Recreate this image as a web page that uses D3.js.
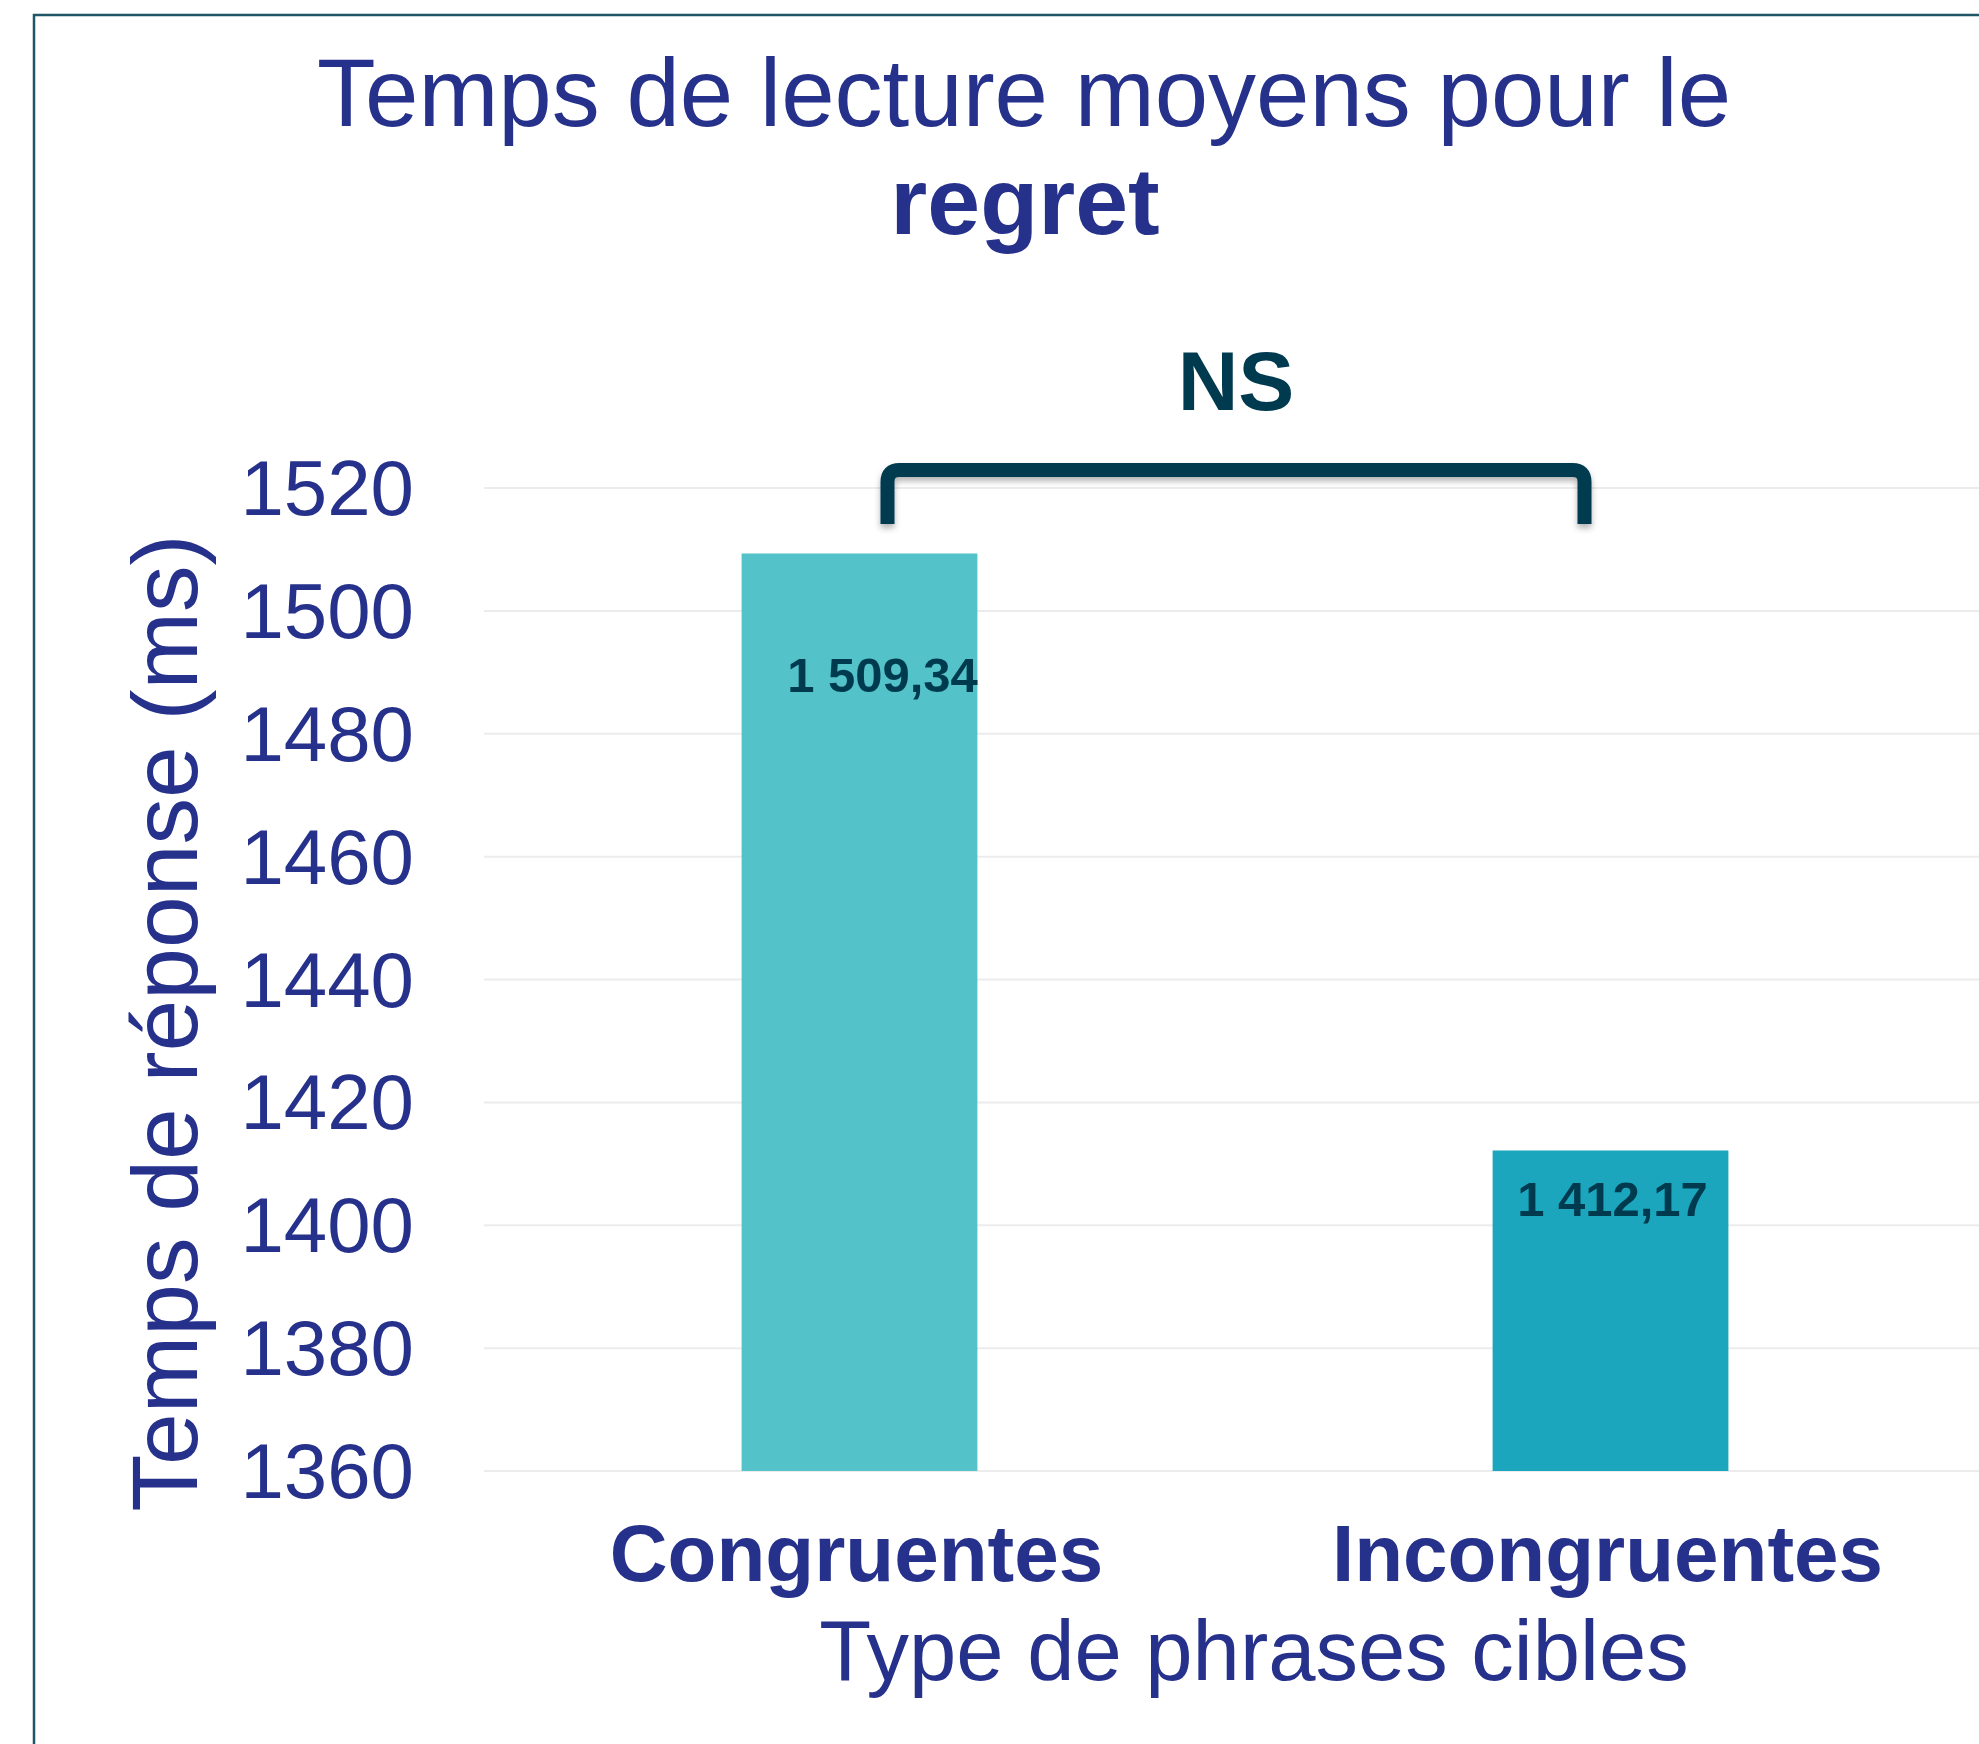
<!DOCTYPE html>
<html lang="fr">
<head>
<meta charset="UTF-8">
<title>Temps de lecture moyens pour le regret</title>
<script src="https://d3js.org/d3.v7.min.js"></script>
<style>
  body { margin: 0; background: #fff; }
  text { font-family: "Liberation Sans", Arial, sans-serif; }
</style>
</head>
<body>
<script>
// data
var categories = ["Congruentes", "Incongruentes"];
var values = [1509.34, 1412.17];
var valueLabels = ["1 509,34", "1 412,17"];
var yTicks = [1360, 1380, 1400, 1420, 1440, 1460, 1480, 1500, 1520];
var barColors = ["#53C3C9", "#1BA6BD"];

var w = 1979, h = 1744;
var navy = "#26318C";
var dark = "#003A4F";

var svg = d3.select("body").append("svg")
    .attr("width", w)
    .attr("height", h);

// frame
svg.append("path")
    .attr("d", "M34," + h + " V15 H" + w)
    .attr("fill", "none")
    .attr("stroke", "#1F5566")
    .attr("stroke-width", 2.5);

var x = d3.scaleBand()
    .domain(categories)
    .range([484, 1986])
    .paddingInner(0.686)
    .paddingOuter(0.343);

var y = d3.scaleLinear()
    .domain([1360, 1520])
    .range([1471, 488]);

// gridlines
svg.append("g").selectAll("line")
    .data(yTicks)
    .enter()
    .append("line")
    .attr("x1", 484)
    .attr("x2", w)
    .attr("y1", function(d){ return y(d); })
    .attr("y2", function(d){ return y(d); })
    .attr("stroke", "#ECECEC")
    .attr("stroke-width", 2);

// y tick labels
svg.append("g").selectAll("text")
    .data(yTicks)
    .enter()
    .append("text")
    .attr("x", 414)
    .attr("y", function(d){ return y(d) + 27; })
    .attr("text-anchor", "end")
    .attr("font-size", 78)
    .attr("fill", navy)
    .text(function(d){ return d; });

// bars
svg.append("g").selectAll("rect")
    .data(values)
    .enter()
    .append("rect")
    .attr("x", function(d, i){ return x(categories[i]); })
    .attr("y", function(d){ return y(d); })
    .attr("width", x.bandwidth())
    .attr("height", function(d){ return y(1360) - y(d); })
    .attr("fill", function(d, i){ return barColors[i]; });

// value labels (placed by hand in the original)
var labelDx = [23, 2];
var labelDy = [139, 66];
svg.append("g").selectAll("text")
    .data(values)
    .enter()
    .append("text")
    .attr("x", function(d, i){ return x(categories[i]) + x.bandwidth() / 2 + labelDx[i]; })
    .attr("y", function(d, i){ return y(d) + labelDy[i]; })
    .attr("text-anchor", "middle")
    .attr("font-size", 49)
    .attr("font-weight", "bold")
    .attr("fill", dark)
    .text(function(d, i){ return valueLabels[i]; });

// category labels
svg.append("g").selectAll("text")
    .data(categories)
    .enter()
    .append("text")
    .attr("x", function(d){ return x(d) + x.bandwidth() / 2 - 3; })
    .attr("y", 1581)
    .attr("text-anchor", "middle")
    .attr("font-size", 80)
    .attr("font-weight", "bold")
    .attr("fill", navy)
    .text(function(d){ return d; });

// axis titles
svg.append("text")
    .attr("x", 1254)
    .attr("y", 1680)
    .attr("text-anchor", "middle")
    .attr("font-size", 85)
    .attr("fill", navy)
    .text("Type de phrases cibles");

svg.append("text")
    .attr("transform", "translate(197,1023) rotate(-90)")
    .attr("text-anchor", "middle")
    .attr("font-size", 93)
    .attr("fill", navy)
    .text("Temps de réponse (ms)");

// title
svg.append("text")
    .attr("x", 1024)
    .attr("y", 126)
    .attr("text-anchor", "middle")
    .attr("font-size", 96)
    .attr("fill", navy)
    .text("Temps de lecture moyens pour le");

svg.append("text")
    .attr("x", 1025)
    .attr("y", 234)
    .attr("text-anchor", "middle")
    .attr("font-size", 95)
    .attr("font-weight", "bold")
    .attr("fill", navy)
    .text("regret");

// significance bracket
var defs = svg.append("defs");
var f = defs.append("filter").attr("id", "shadow")
    .attr("x", "-5%").attr("y", "-20%").attr("width", "110%").attr("height", "150%");
f.append("feDropShadow")
    .attr("dx", 0).attr("dy", 4).attr("stdDeviation", 3)
    .attr("flood-color", "#000").attr("flood-opacity", 0.3);

var bx1 = x(categories[0]) + x.bandwidth() / 2 + 28;
var bx2 = x(categories[1]) + x.bandwidth() / 2 - 26;
var byTop = 470, byBot = 524, r = 12;
svg.append("path")
    .attr("d", "M" + bx1 + "," + byBot +
        " V" + (byTop + r) +
        " Q" + bx1 + "," + byTop + " " + (bx1 + r) + "," + byTop +
        " H" + (bx2 - r) +
        " Q" + bx2 + "," + byTop + " " + bx2 + "," + (byTop + r) +
        " V" + byBot)
    .attr("fill", "none")
    .attr("stroke", dark)
    .attr("stroke-width", 14)
    .attr("filter", "url(#shadow)");

svg.append("text")
    .attr("x", (bx1 + bx2) / 2)
    .attr("y", 410)
    .attr("text-anchor", "middle")
    .attr("font-size", 84)
    .attr("font-weight", "bold")
    .attr("fill", dark)
    .text("NS");
</script>
</body>
</html>
